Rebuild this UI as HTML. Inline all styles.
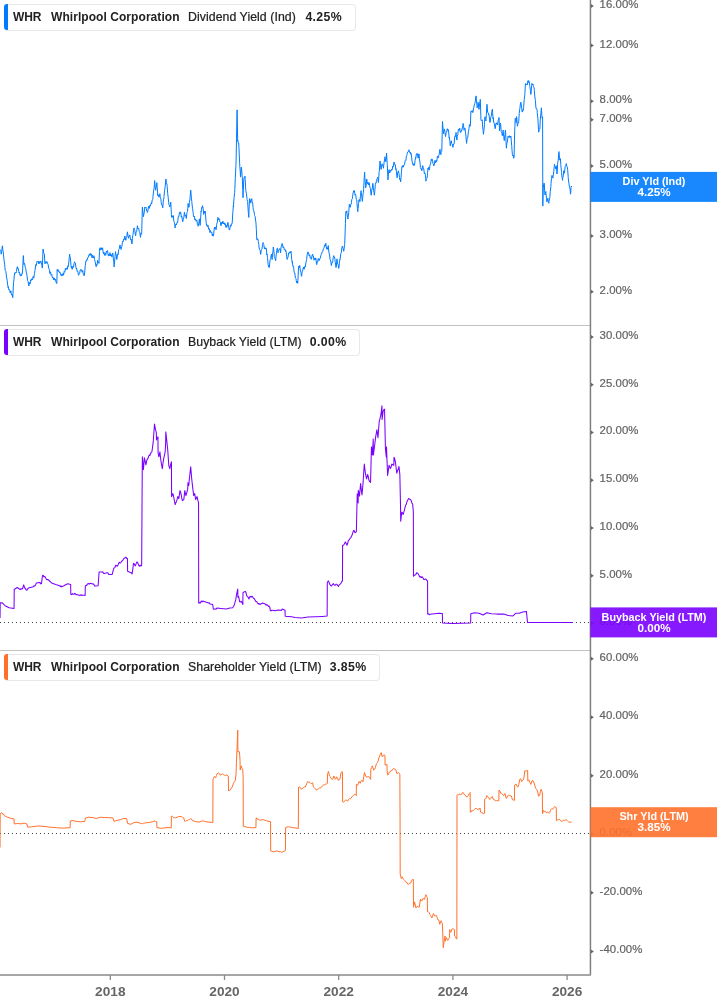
<!DOCTYPE html>
<html lang="en"><head><meta charset="utf-8"><title>WHR Yield Chart</title>
<style>
html,body{margin:0;padding:0;background:#fff;}
body{width:717px;height:1005px;overflow:hidden;position:relative;font-family:"Liberation Sans", Arial, sans-serif;}
svg{position:absolute;left:0;top:0;display:block;}
.lg{position:absolute;left:4px;height:27px;box-sizing:border-box;border:1px solid #e8e8e8;border-left:none;border-radius:4px;background:#fff;font-size:12px;line-height:25px;color:#222;white-space:nowrap;letter-spacing:-0.1px;}
.lg i{position:absolute;left:0;top:-1px;bottom:0px;width:4px;border-radius:3px 0 0 3px;}
.lg b{font-weight:bold;}
.lg span{position:absolute;top:0;}
.lg .m{font-size:12.3px;letter-spacing:0.06px;-webkit-text-stroke:0.22px #222;}
.lg .v{font-size:12.3px;letter-spacing:0.35px;}
</style></head><body>
<svg width="717" height="1005" viewBox="0 0 717 1005" font-family='"Liberation Sans", Arial, sans-serif'>
<g stroke="#c2c2c2" stroke-width="1"><line x1="0" y1="325.5" x2="590.45" y2="325.5"/><line x1="0" y1="650.5" x2="590.45" y2="650.5"/></g><g stroke="#444" stroke-width="1" stroke-dasharray="1,3"><line x1="0" y1="622.5" x2="590.45" y2="622.5"/><line x1="0" y1="833.5" x2="590.45" y2="833.5"/></g><path d="M0,249.3 L0.31,251.61 L0.93,252.36 L1.1,254.2 L1.55,253.09 L2.17,246.83 L2.5,245.8 L2.79,249.45 L3.41,252.96 L3.5,254.9 L4.03,260.19 L4.65,264.15 L4.9,267.4 L5.27,270.62 L5.89,271.43 L6.3,275.1 L6.51,276.99 L7.13,280.14 L7.75,285.6 L8.1,287.6 L8.37,286.61 L8.99,290.34 L9.61,289.73 L9.8,290.4 L10.23,292.94 L10.85,290.85 L11.2,293.2 L11.47,295.12 L12.09,294.37 L12.71,297.68 L12.8,297.4 L13.33,286.02 L13.5,282.8 L13.95,279.83 L14.57,272.88 L14.6,273 L15.19,273.57 L15.81,272.36 L16,273 L16.43,271.41 L17.05,267.33 L17.4,266.7 L17.67,268.56 L18.29,268.34 L18.8,271.6 L18.91,272.88 L19.53,272.11 L20.15,275.75 L20.6,275.8 L20.77,274.36 L21.39,275.76 L22.01,273.37 L22.3,273.7 L22.63,269.97 L23.25,256.37 L23.4,255.6 L23.87,264.13 L24,264.6 L24.49,263.31 L24.8,264.6 L25.11,266.87 L25.73,268.57 L26.35,272.96 L26.5,273 L26.97,275.27 L27.59,280.55 L28.21,281.83 L28.6,284.9 L28.83,285.98 L29.45,282.57 L30.07,283.97 L30.69,279.76 L31.31,280.46 L31.4,280 L31.93,278.61 L32.55,279.85 L33.17,276.39 L33.79,278.09 L34.2,275.8 L34.41,273.47 L35.03,270.39 L35.6,266 L35.65,264.68 L36.27,265.57 L36.89,261.81 L37.4,261.1 L37.51,261.62 L38.13,261 L38.75,263.98 L39.37,261.54 L39.7,263.2 L39.99,263.23 L40.61,261.19 L41.1,261.1 L41.23,262.3 L41.85,265.09 L42.3,268.1 L42.47,264.95 L43,249.3 L43.09,249.11 L43.71,253.22 L44.33,253.69 L44.4,254.9 L44.9,263.2 L44.95,263.75 L45.57,261.69 L46.19,263.32 L46.81,261.46 L47.4,262.5 L47.43,263.08 L48.05,264.21 L48.67,268.18 L49.29,269.38 L49.5,270.9 L49.91,273.48 L50.53,271.79 L51.15,275.34 L51.77,274.47 L52.3,277.2 L52.39,277.88 L53.01,277.06 L53.63,280.03 L54.25,277.95 L54.87,280.21 L55.1,280 L55.49,279.12 L56.11,282.68 L56.73,282.69 L56.8,283.5 L57.2,269.5 L57.35,271.03 L57.97,269.51 L58.59,271.6 L59.21,271.11 L59.3,271.6 L59.83,273.09 L60.45,272.78 L61.07,275.78 L61.4,275.8 L61.69,274.37 L62.31,275.71 L62.93,273.34 L63.5,273.7 L63.55,275.24 L64.17,271.38 L64.79,272.22 L65.41,268.37 L65.6,269.5 L66.03,269.61 L66.65,267.9 L67.27,269.34 L67.89,265.68 L68.3,266.7 L68.51,265.47 L69.13,258.72 L69.7,254.2 L69.75,255.94 L70.37,258.06 L70.99,265.32 L71.4,268.1 L71.61,266.39 L72.23,269.31 L72.85,266.39 L73.2,267.4 L73.47,267.21 L74.09,263.39 L74.6,261.8 L74.71,262.58 L75.33,262.99 L75.95,267.68 L76.4,268.8 L76.57,267.96 L77.19,271.53 L77.81,271.05 L78.43,275.26 L78.8,275.1 L79.05,273.72 L79.67,273.33 L80.29,269.82 L80.9,269.5 L80.91,269.91 L81.53,269.72 L82.15,272.25 L82.77,270.5 L83,272.3 L83.39,274.7 L84.01,274.82 L84.1,275.8 L84.63,273.02 L85.25,265.74 L85.8,261.8 L85.87,261.99 L86.49,259.78 L87.11,260.17 L87.73,257.65 L87.9,257.7 L88.35,257.35 L88.97,254.74 L89.59,255.42 L90,253.5 L90.21,253.3 L90.83,255.41 L91.45,253.89 L92.07,257.93 L92.1,256.3 L92.69,255.29 L93.31,257.99 L93.93,255.82 L94.1,257 L94.55,259.58 L95.17,261.59 L95.79,265.13 L96.2,266.7 L96.41,264.43 L97.03,265.23 L97.65,260.25 L97.8,261.4 L98.27,262.58 L98.89,262.19 L98.9,263.4 L99.51,251.65 L99.6,248.8 L100.13,247.7 L100.75,250.02 L101.3,249.5 L101.37,247.77 L101.99,249.56 L102.61,247.78 L102.7,248.8 L103.23,253.02 L103.6,253.7 L103.85,252.23 L104.47,255.35 L105.09,252.96 L105.5,254.4 L105.71,255.4 L106.33,251.21 L106.95,252.37 L107.3,250.9 L107.57,250.59 L108.19,255.58 L108.7,255.8 L108.81,254.14 L109.43,255.73 L110.05,252.62 L110.3,253.7 L110.67,255.95 L111.29,254.58 L111.7,256.5 L111.91,257.06 L112.53,253.24 L112.9,253 L113.15,257.01 L113.77,261.93 L114.1,266.9 L114.39,264.35 L115.01,256.42 L115.6,251.6 L115.63,253.52 L116.25,255.07 L116.6,259.3 L116.87,259.54 L117.49,254.9 L118,253.7 L118.11,254.56 L118.73,249.46 L119.35,248.84 L119.8,246 L119.97,244.95 L120.59,248.39 L121.2,249.5 L121.21,248.1 L121.83,246.73 L122.45,242.18 L122.9,241.1 L123.07,241.73 L123.69,238.9 L124.31,239.56 L124.93,236.04 L125,236.9 L125.55,239.99 L126,240.4 L126.17,237.8 L126.79,236.37 L127.4,232.1 L127.41,231.84 L128.03,236.37 L128.5,238.3 L128.65,236.59 L129.27,236.5 L129.6,234.9 L129.89,235.36 L130.51,239.59 L131,239.7 L131.13,238.97 L131.75,243.48 L132.1,243.9 L132.37,238.62 L132.7,235.6 L132.99,234.76 L133.61,229.36 L134.1,227.9 L134.23,229.1 L134.85,230.61 L135.47,235.92 L135.7,235.6 L136.09,231.8 L136.71,231.39 L137.3,226.5 L137.33,225.71 L137.95,228.75 L138.57,227.98 L138.9,229.3 L139.19,231.22 L139.81,232.79 L140.3,236.2 L140.43,237.36 L141.05,232.89 L141.67,234.17 L141.7,232.8 L142.29,209.42 L142.4,207 L142.91,212.18 L143.5,216.7 L143.53,215.96 L144.15,213.13 L144.77,207.22 L144.9,207 L145.39,208.09 L146.01,207.23 L146.3,208.4 L146.63,210.93 L147.25,211.3 L147.3,212.5 L147.87,211 L148.49,206.35 L148.7,207 L149.11,208.47 L149.73,205.55 L150.1,206.3 L150.35,206.08 L150.97,203.78 L151.5,202.8 L151.59,204.01 L152.21,199.96 L152.83,199.44 L152.9,197.9 L153.45,191.91 L154.07,188.23 L154.69,180.58 L154.7,181.9 L155.31,187.29 L155.7,190.2 L155.93,188.12 L156.55,185.26 L156.8,182.6 L157.17,186.63 L157.79,195.74 L157.8,194.4 L158.41,195.32 L158.9,197.2 L159.03,197.24 L159.65,194.21 L159.9,193.7 L160.27,197.27 L160.89,199.17 L161.2,202.1 L161.51,204.52 L162.13,204.6 L162.6,207.7 L162.75,207.93 L163.37,199.9 L163.99,197.84 L164,196.5 L164.61,190.33 L165.23,186.2 L165.85,179.01 L165.9,179.1 L166.47,182.75 L167.09,185.1 L167.2,186.7 L167.71,193.61 L168.33,198.58 L168.6,202.1 L168.95,204.5 L169.57,206.07 L169.6,207 L170.19,205.65 L170.7,202.1 L170.81,202.75 L171.43,214.43 L171.7,217.4 L172.05,215.69 L172.67,217.28 L173.1,216 L173.29,215.54 L173.91,221.62 L174.53,222.73 L175.15,227.86 L175.2,226.5 L175.77,224.24 L176.39,225 L177.01,222.55 L177.3,223 L177.63,222.53 L178.25,216.68 L178.7,216 L178.87,216.32 L179.49,212.53 L180.1,211.8 L180.11,213.36 L180.73,212.27 L181.35,217.17 L181.5,216 L181.97,216.93 L182.59,221.57 L182.9,221.6 L183.21,219.15 L183.83,217.33 L184.3,213.2 L184.45,212.1 L185.07,216.19 L185.69,215.14 L186.31,218.49 L186.4,218.1 L186.93,212.65 L187.55,211.34 L188.17,203.45 L188.2,204.9 L188.79,207.33 L189.1,207 L189.41,202.53 L190.03,198.56 L190.65,190.11 L190.8,190.2 L191.27,197.08 L191.89,201.9 L191.9,202.8 L192.51,208.36 L193.13,212.25 L193.3,214.6 L193.75,216.89 L194.37,216.12 L194.99,220.16 L195,219.2 L195.61,219.17 L196.23,221.25 L196.8,220.1 L196.85,219.95 L197.47,224.72 L198.09,225.71 L198.1,226.3 L198.71,223.92 L199.3,220.1 L199.33,218.87 L199.95,224.42 L200.2,225.4 L200.57,219.01 L201.1,211.1 L201.19,211.78 L201.81,207.05 L202.43,207.45 L202.5,205.7 L203.05,208.03 L203.6,212.9 L203.67,214.44 L204.29,211.08 L204.91,212.96 L205.1,211.1 L205.53,215.07 L206.15,222.43 L206.5,225.4 L206.77,224.54 L207.39,226.68 L207.9,226.3 L208.01,225.25 L208.63,229.32 L209.25,228.64 L209.7,230.8 L209.87,232.45 L210.49,230.51 L211.11,232.95 L211.5,232.6 L211.73,232.23 L212.35,235.78 L212.97,233.98 L213.3,236.2 L213.59,234.93 L214.21,228.86 L214.7,227.2 L214.83,229.04 L215.45,227.2 L216,229 L216.07,229.69 L216.69,224.32 L217.31,222.26 L217.8,218.3 L217.93,217.36 L218.55,219.82 L219.17,218.65 L219.6,219.2 L219.79,221.84 L220.41,222.36 L220.8,225.4 L221.03,225.81 L221.65,222.33 L222.27,223.63 L222.6,221.9 L222.89,221.14 L223.51,223.88 L224.13,222.71 L224.75,224.64 L224.9,223.7 L225.37,223.73 L225.99,227.46 L226.61,225.43 L226.7,227.2 L227.23,226.08 L227.85,222.35 L228,222.8 L228.47,226.31 L229.09,228.93 L229.1,229.9 L229.71,229.82 L230.33,225.26 L230.9,225.4 L230.95,226.3 L231.57,223.71 L232.1,223.7 L232.19,223.02 L232.81,212.7 L233.4,205.7 L233.43,206.95 L234.05,197.74 L234.67,192.49 L234.8,189.6 L235.29,178.45 L235.91,165.67 L236.1,160.9 L236.53,138.35 L237.1,109.9 L237.15,113.77 L237.7,141.2 L237.77,140.58 L238.39,143.24 L238.7,143 L239.01,148.4 L239.63,163.15 L239.8,166.3 L240.25,171.92 L240.5,177.1 L240.87,172.99 L241.3,167.2 L241.49,168.07 L242.11,175.87 L242.3,177.1 L242.73,189.18 L243,197.7 L243.35,190.52 L243.8,178.9 L243.97,177.61 L244.59,177.95 L245,176.2 L245.21,179.38 L245.6,187.8 L245.83,190.62 L246.45,193.83 L247,198.6 L247.07,199.63 L247.69,201.75 L247.7,203 L248.31,212.18 L248.8,217.4 L248.93,212.87 L249.5,198.6 L249.55,200.26 L250.17,199.64 L250.6,202.2 L250.79,203.13 L251.41,199.14 L251.8,198.6 L252.03,201.51 L252.65,202.98 L253.1,207.5 L253.27,209.94 L253.89,210.82 L254.5,214.7 L254.51,215.49 L255.13,216.35 L255.75,221.73 L255.9,221.9 L256.37,229.66 L256.7,238 L256.99,239.92 L257.61,238.68 L258.1,239.8 L258.23,241.48 L258.85,244.48 L259,247 L259.47,249.28 L260.09,250.32 L260.71,254.36 L260.8,253.2 L261.33,249.84 L261.95,249.26 L262.57,244.49 L263.1,242.5 L263.19,243.79 L263.81,244.63 L264.4,248.7 L264.43,249.01 L265.05,247.7 L265.67,249.14 L265.8,247.8 L266.29,248.6 L266.91,254.83 L267.1,254.1 L267.53,257.51 L268.15,264.56 L268.5,266.7 L268.77,265.69 L269.2,267.6 L269.39,267.2 L270.01,260.38 L270.3,259.5 L270.63,258.58 L271.25,254.83 L271.5,254.1 L271.87,257.88 L272.1,259.5 L272.49,255.09 L273.11,250.05 L273.3,247 L273.73,249.52 L274.35,256.74 L274.6,257.7 L274.97,258.1 L275.59,260.69 L275.7,260.4 L276.21,254.84 L276.83,250.86 L276.9,248.7 L277.45,248.16 L278.07,252.73 L278.2,251.4 L278.69,250.02 L279.31,249.65 L279.6,248.7 L279.93,248.39 L280.5,252.3 L280.55,252.93 L281.17,246.67 L281.79,244.86 L281.9,243.4 L282.41,243.86 L283.03,247.55 L283.2,247 L283.65,246.71 L284.27,249.6 L284.89,248.98 L285.51,251.42 L285.7,250.4 L286.13,251.5 L286.75,257.25 L287.2,259.4 L287.37,257.78 L287.99,257.58 L288.61,252.89 L288.7,253.4 L289.23,253.47 L289.85,251.77 L290.47,252.72 L291,251.2 L291.09,251.72 L291.71,259.38 L292.2,262.4 L292.33,261.5 L292.95,266.69 L293.57,266.37 L293.7,268.4 L294.19,272.13 L294.7,273.6 L294.81,273.23 L295.43,278 L296.05,278.62 L296.2,280.3 L296.67,282.92 L297.29,281.05 L297.7,283.3 L297.91,280.35 L298.53,267.45 L298.7,266.1 L299.15,267.74 L299.77,265.42 L299.9,266.9 L300.39,271.25 L301.01,272.62 L301.4,275.8 L301.63,276.33 L302.25,270.47 L302.87,270.51 L302.9,269.1 L303.49,267.14 L304.11,269.26 L304.73,266.4 L305.1,266.9 L305.35,266.96 L305.97,262.15 L306.59,260.23 L306.6,259.4 L307.21,254.63 L307.8,251.9 L307.83,252.28 L308.45,252.47 L309.07,255.78 L309.6,255.7 L309.69,254.75 L310.31,258.08 L310.93,257.36 L311.1,259.4 L311.55,259.07 L312.17,254.92 L312.6,254.2 L312.79,256.08 L313.41,255.91 L314.03,260.2 L314.1,259.4 L314.65,258 L315.27,259.93 L315.6,257.9 L315.89,258.32 L316.51,264.26 L316.8,264.6 L317.13,261.74 L317.75,261.96 L318.1,258.7 L318.37,258.62 L318.99,260.69 L319.6,260.1 L319.61,258.73 L320.23,258.45 L320.8,255.7 L320.85,254.71 L321.47,254.37 L322.09,251.86 L322.3,251.9 L322.71,251.72 L323.33,248.94 L323.95,248.52 L324.1,247.5 L324.57,244.82 L325.19,245.98 L325.7,243.7 L325.81,243.22 L326.43,248.87 L326.8,249 L327.05,247.52 L327.67,249.36 L328.29,245.52 L328.3,246.7 L328.91,252.3 L329.5,254.9 L329.53,254.67 L330.15,259.83 L330.77,260.95 L331.3,265.4 L331.39,265.54 L332.01,262.02 L332.5,262.4 L332.63,262.25 L333.25,257.57 L333.8,255.7 L333.87,256.45 L334.49,256.83 L335,259.4 L335.11,261.46 L335.73,265 L336,267.6 L336.35,266.03 L336.9,259.4 L336.97,258.86 L337.59,263.89 L338.21,264.81 L338.7,268.4 L338.83,268.24 L339.45,262.07 L339.9,259.4 L340.07,259.69 L340.69,254.01 L341,253.4 L341.31,252.57 L341.93,247.51 L342.5,246 L342.55,246.93 L343.17,248.58 L343.7,251.2 L343.79,251.24 L344.41,246.08 L344.7,244.5 L345.03,235.17 L345.4,223.6 L345.65,216.24 L345.9,211.6 L346.27,212.74 L346.89,210.84 L346.9,212.4 L347.51,217.46 L348,219.1 L348.13,217.28 L348.75,212.41 L349.2,205.7 L349.37,204.29 L349.99,207.09 L350.4,207.2 L350.61,204.69 L351.23,204.37 L351.4,202.7 L351.85,199.28 L352.47,198.53 L352.5,196.7 L353.09,193.11 L353.7,190.7 L353.71,191.76 L354.33,190.66 L354.9,193.7 L354.95,195.13 L355.57,194.29 L355.9,196 L356.19,199.38 L356.81,199.93 L356.9,201.9 L357.43,208.76 L357.8,211.6 L358.05,208.43 L358.67,203.36 L358.9,199.7 L359.29,199.35 L359.9,201.2 L359.91,201.7 L360.53,195.31 L361.1,190.7 L361.15,192.18 L361.77,196.09 L362.3,201.2 L362.39,201.38 L363.01,194.16 L363.4,192.2 L363.63,189.29 L364.25,177.3 L364.6,172.1 L364.87,177.45 L365.49,185.19 L365.6,187.8 L366.11,185.7 L366.73,179.04 L366.8,179.6 L367.35,183.72 L367.8,184 L367.97,182.29 L368.59,184.96 L369.21,182.71 L369.3,183.3 L369.83,186.91 L370.45,188.59 L371.07,195.23 L371.3,195.2 L371.69,190.93 L372.31,187.99 L372.8,183.3 L372.93,183.65 L373.55,190.51 L374.17,193.08 L374.3,195.2 L374.79,191.23 L375.3,184.8 L375.41,183.2 L376.03,183.42 L376.5,180.3 L376.65,179.28 L377.27,178.64 L377.5,177.3 L377.89,178.16 L378.3,182.5 L378.51,181.73 L379.13,171.67 L379.3,171.3 L379.75,165.03 L380,161 L380.37,163.44 L380.99,169.24 L381.1,169.4 L381.61,165.65 L382.1,163.8 L382.23,165.3 L382.85,165.23 L383.47,168.28 L383.5,167.3 L384.09,162.47 L384.71,158.65 L384.9,156.8 L385.33,158.56 L385.6,161.7 L385.95,160.08 L386.57,153.05 L386.6,154 L387.19,163.67 L387.3,164.5 L387.81,176.54 L387.9,179.8 L388.43,174.68 L388.8,170.1 L389.05,169.76 L389.67,172.97 L390,172.2 L390.29,170.29 L390.91,171.24 L391.4,170.1 L391.53,169.37 L392.15,170.03 L392.77,166.19 L392.8,167.3 L393.39,166.05 L393.9,162.4 L394.01,161.99 L394.63,164.57 L395.1,164.5 L395.25,164.54 L395.87,169.53 L396,168.7 L396.49,172 L397,177.1 L397.11,177.82 L397.73,172.13 L398.35,171.78 L398.4,170.8 L398.97,173.31 L399.5,177.7 L399.59,179.39 L400.21,178.82 L400.6,181.9 L400.83,180.29 L401.45,171.79 L402,166.6 L402.07,167.08 L402.69,165.56 L403,167.3 L403.31,167.06 L403.93,164.93 L404,165.2 L404.55,164.64 L405.17,160.71 L405.4,161 L405.79,160.59 L406.41,155.96 L407.03,155.41 L407.2,153.3 L407.65,152.03 L408.27,151.83 L408.6,150.6 L408.89,149.79 L409.51,152.31 L410,152.6 L410.13,151.97 L410.75,154.44 L411,153.3 L411.37,154.62 L411.99,160.93 L412.4,163.1 L412.61,163 L413.23,165.49 L413.5,165.2 L413.85,163.66 L414.47,165.4 L414.6,164.5 L415.09,160.61 L415.6,157.5 L415.71,158.46 L416.33,154.21 L416.95,155.04 L417,153.3 L417.57,154.34 L417.9,157.5 L418.19,158.23 L418.81,153.93 L419.1,154 L419.43,158.8 L420.05,162.99 L420.4,167.3 L420.67,168.67 L421.29,168.52 L421.6,170.1 L421.91,170.78 L422.53,165.76 L423,165.9 L423.15,167.3 L423.77,168.94 L424.39,173.66 L424.4,172.9 L425.01,173.04 L425.3,174.3 L425.63,178.41 L426,181.2 L426.25,179.38 L426.87,178.36 L427.4,175.7 L427.49,173.62 L428.1,168 L428.11,169.42 L428.73,167.26 L429.35,170.1 L429.5,168.7 L429.97,165.26 L430.59,163.8 L430.9,161.7 L431.21,159.47 L431.83,160.63 L431.9,158.9 L432.45,160.34 L433.07,163.78 L433.69,164.84 L433.7,165.9 L434.31,164.83 L434.93,160.5 L435.1,161 L435.55,162.88 L436.17,160.32 L436.5,161.7 L436.79,161.5 L437.41,156.21 L437.5,156.1 L438.03,157.84 L438.6,157.5 L438.65,155.8 L439.27,153.95 L439.89,149.44 L440,149.2 L440.51,153.65 L440.9,154.7 L441.13,152.09 L441.75,151.25 L441.8,150.6 L442.37,125.72 L442.5,121.5 L442.99,128.03 L443.5,133.8 L443.61,131.86 L444.23,131.03 L444.4,128.9 L444.85,131.14 L445.47,136.37 L445.6,136.6 L446.09,132.85 L446.71,132.25 L446.9,130.3 L447.33,128.71 L447.95,130.63 L448.3,129.6 L448.57,130.91 L449.19,138.11 L449.3,137.3 L449.81,140.82 L450.2,145.7 L450.43,145.75 L451.05,141.18 L451.4,140.8 L451.67,143.48 L452.29,144.04 L452.5,146.4 L452.91,147.37 L453.53,143.98 L453.9,144.3 L454.15,143.85 L454.77,136.42 L455,135.9 L455.39,136.58 L456,133.8 L456.01,132.43 L456.63,139.24 L457,140.1 L457.25,136.49 L457.87,134.54 L458.1,131 L458.49,129.22 L459.11,130.52 L459.5,128.9 L459.73,128.18 L460.35,132.45 L460.9,132.4 L460.97,131.3 L461.59,131.22 L462.21,127.97 L462.3,128.2 L462.83,125.9 L463,123.4 L463.45,124.25 L464.07,130.26 L464.1,129.6 L464.69,128.24 L465.1,128.2 L465.31,130.99 L465.93,136.02 L466.5,142.9 L466.55,143.39 L467.17,138.26 L467.6,138 L467.79,137.05 L468.41,131.6 L469.03,128.45 L469.3,126.1 L469.65,124.45 L470.27,126.25 L470.4,124.7 L470.89,111.21 L470.9,111.5 L471.51,111.89 L472.13,110.56 L472.75,112.62 L473.2,111.5 L473.37,108.87 L473.99,106.94 L474.1,105.9 L474.61,103.75 L475,102.9 L475.23,101.99 L475.85,96.89 L476.1,95.9 L476.47,100.93 L477.09,106.38 L477.1,107.8 L477.71,105.52 L478.1,102.2 L478.33,103.6 L478.9,109.2 L478.95,109.41 L479.57,103.82 L480.19,100.71 L480.3,99.4 L480.81,115.21 L480.9,119.6 L481.43,120.87 L482.05,119.68 L482.3,121 L482.67,126.92 L483.29,132 L483.4,134.3 L483.91,130.42 L484.5,124.5 L484.53,122.5 L485,116.8 L485.15,119.08 L485.77,119.61 L485.9,121 L486.39,114.23 L486.9,105 L487.01,104.3 L487.63,112.22 L487.8,112.7 L488.25,112.91 L488.87,115.02 L488.9,114.7 L489.49,118.12 L489.8,122.4 L490.11,122.38 L490.73,117.22 L491,116.8 L491.35,115.94 L491.97,110.51 L492.4,109.2 L492.59,112.52 L493.1,118.9 L493.21,117.63 L493.83,122.91 L494.2,123.1 L494.45,123.87 L495.07,128.29 L495.2,128.7 L495.69,124.99 L496.2,123.1 L496.31,124.06 L496.93,122.61 L497.3,124.5 L497.55,125.05 L498,122.4 L498.17,120.42 L498.79,119.05 L499,117.5 L499.41,127.89 L499.5,130.8 L500.03,127.02 L500.4,123.1 L500.65,124.5 L501.27,131.81 L501.5,132.2 L501.89,133.13 L502.2,135.7 L502.51,135.59 L503.13,130.1 L503.2,131.5 L503.75,136.72 L504.3,140.6 L504.37,138.88 L504.99,134.52 L505.4,130.1 L505.61,132.52 L506.23,145.42 L506.4,148.2 L506.85,143.41 L507.47,141.74 L507.8,137.8 L508.09,136.06 L508.71,137.31 L509.2,136.4 L509.33,135.72 L509.95,137.7 L510.57,135.96 L511,136.4 L511.19,140.01 L511.81,146.7 L512,150.3 L512.43,154.61 L512.9,155.9 L513.05,154.95 L513.67,158.3 L514.1,157.3 L514.29,148.18 L514.7,130.8 L514.91,126.91 L515.2,118.2 L515.53,118.6 L516.1,121.7 L516.15,122.77 L516.6,116.6 L516.77,117.93 L517.39,126.22 L517.5,125.9 L518.01,123.52 L518.63,123.01 L518.7,121.7 L519.25,113.45 L519.6,109.9 L519.87,108.53 L520.3,105 L520.49,102.78 L521,102.2 L521.11,103.92 L521.73,107.97 L522.1,112 L522.35,112.06 L522.97,110.05 L523.1,110.6 L523.59,107.63 L523.8,105 L524.21,99.26 L524.83,94.66 L524.9,93.1 L525.45,83.59 L525.5,84.1 L526.07,84.83 L526.69,83.84 L526.9,84.8 L527.31,84.79 L527.93,80.74 L528.55,82.41 L528.7,80.6 L529.17,81.69 L529.7,85.5 L529.79,86.55 L530.41,90.48 L530.8,94.5 L531.03,93.47 L531.65,85.29 L531.9,83.4 L532.27,85.04 L532.89,83.94 L533.3,85.5 L533.51,86.82 L534.13,87.8 L534.3,90.3 L534.75,96.13 L535.3,100.1 L535.37,100.25 L535.99,108.51 L536.1,108.5 L536.61,108.51 L537.1,109.9 L537.23,112.33 L537.85,118.09 L538,121 L538.47,129.24 L538.7,132.2 L539.09,130.06 L539.71,129.51 L539.9,128 L540.33,119.03 L540.6,115.4 L540.95,112.73 L541.4,107.8 L541.57,110.28 L541.9,116.8 L542.19,118.12 L542.6,116.8 L542.8,206.1 L542.81,204.92 L543.3,185.2 L543.43,186.64 L544.05,183.06 L544.3,183.8 L544.67,190.98 L545,194.9 L545.29,193.04 L545.9,191.5 L545.91,193.07 L546.53,198.35 L546.8,201.9 L547.15,201.17 L547.77,198.07 L547.8,198.4 L548.39,202.28 L548.9,203.3 L549.01,201.24 L549.63,198.74 L549.9,196.3 L550.25,191.46 L550.87,186.75 L551,183.8 L551.49,178.55 L552,175.4 L552.11,176.21 L552.73,177.34 L552.8,178.2 L553.35,174.87 L553.8,171.2 L553.97,169.05 L554.5,164.3 L554.59,165.51 L555.21,166.54 L555.6,168.4 L555.83,169.1 L556.3,165.7 L556.45,166.58 L557,174 L557.07,173.88 L557.6,164.3 L557.69,162.39 L558.31,160.08 L558.4,158 L558.93,151.6 L559,152.4 L559.55,158.53 L559.8,160.1 L560.17,158.47 L560.4,158.7 L560.79,164.51 L561.41,171.14 L561.5,172.6 L562.03,177.17 L562.6,180.3 L562.65,178.57 L563.27,175.88 L563.6,171.2 L563.89,170.66 L564.3,173.3 L564.51,173.07 L565.13,166.41 L565.4,165.7 L565.75,165.54 L566.37,163.58 L566.4,164.3 L566.99,166.91 L567.3,167.1 L567.61,169.23 L568.2,176.8 L568.23,177.58 L568.7,182.4 L568.85,182.33 L569.47,187.33 L569.8,188 L570.09,189.16 L570.5,194.2 L570.71,192.76 L571,187.3 L571.33,186 L571.7,187" fill="none" stroke="#007bff" stroke-width="1.0" stroke-linejoin="round"/><path d="M0.05,617.9 L0.2,602.7 L1.1,602.92 L2,602.7 L5.1,605.7 L9.1,607.7 L14.05,608.4 L14.2,589.5 L17.2,587.5 L20.2,589.5 L21,588.74 L21.8,589.14 L22.6,588.5 L23.7,584.9 L24.7,588.1 L25.43,588.33 L26.17,589.99 L26.9,590.2 L27.6,589.05 L28.3,588.1 L32.4,586.9 L33.2,586.69 L34,585.73 L34.8,586.1 L35.6,584.73 L36.4,582.9 L39.4,582.5 L40.1,582.62 L40.8,583.91 L41.5,583.5 L42.5,575.4 L43.17,575.35 L43.83,576.7 L44.5,576.4 L45.3,577.22 L46.1,578.8 L46.9,579.7 L47.7,579.44 L48.5,580 L51.6,582.9 L55.6,584.5 L59.7,585.7 L60.37,586.59 L61.03,585.84 L61.7,586.9 L64.7,585.3 L67.7,583.7 L70.65,584.5 L70.8,594.2 L71.6,594.62 L72.4,593.63 L73.2,594.2 L74,594.32 L74.8,593.4 L75.47,593.71 L76.13,594.78 L76.8,594.6 L79.9,595.4 L80.57,594.8 L81.23,595.39 L81.9,595 L85.15,595.4 L85.3,586.1 L86,585.36 L86.7,585.42 L87.4,584.1 L88.27,583.45 L89.13,584.12 L90,583.3 L93,584.1 L93.8,584.1 L94.6,585.98 L95.4,586.1 L98.1,585.7 L99.1,572 L102.1,572 L102.77,571.77 L103.43,573.26 L104.1,573.4 L107.2,572.8 L107.87,572.72 L108.53,574.23 L109.2,574.4 L112.2,574.4 L113.2,570.3 L114.03,567.93 L114.87,567.63 L115.7,565.3 L116.5,565.68 L117.3,566.3 L117.97,565.08 L118.63,563.36 L119.3,562.2 L120.1,563.13 L120.9,562.6 L121.73,561.11 L122.57,560.82 L123.4,559.2 L124.07,558.27 L124.73,558.27 L125.4,557.2 L126.08,557.35 L126.77,558.43 L127.45,558.6 L127.6,571.3 L130.4,572.4 L131.25,572.74 L132.1,574 L132.8,569.11 L133.5,563.3 L134.3,563.92 L135.1,565.9 L135.85,564.63 L136.6,562.3 L137.3,562.1 L138,563.3 L138.7,565.4 L139.4,566.2 L140.15,565.12 L140.9,566.05 L141.65,565.2 L142.25,468.7 L142.4,456.8 L143.4,469.7 L144.4,457.8 L145.15,461.14 L145.9,464.8 L146.9,459.8 L147.7,458.95 L148.5,456.8 L149.17,455.07 L149.83,455.48 L150.5,453.8 L151.2,452.35 L151.9,451.8 L152.6,446.9 L153.3,440.9 L153.9,432.25 L154.5,424 L155.43,429.08 L156.35,432.9 L156.5,439.9 L157.22,437.95 L157.95,436.9 L158.1,452.8 L158.9,456.8 L159.9,451.8 L160.9,460.8 L161.6,465 L162.3,468.7 L163.3,460.8 L163.95,457.37 L164.6,454.78 L165.25,450.8 L165.65,442.9 L165.8,431.9 L166.8,440.9 L167.8,450.8 L168.8,465.7 L169.8,468.7 L170.62,464.51 L171.45,461.8 L171.6,496.6 L172.2,495.21 L172.8,493.6 L173.4,495.49 L174,498.6 L174.6,501.94 L175.2,504.6 L176,502.44 L176.8,500.6 L177.8,496.6 L178.8,498.6 L179.4,494.86 L180,490.6 L180.6,492.01 L181.2,494.6 L181.8,498.26 L182.4,500.6 L183.1,500.02 L183.8,499.6 L184.8,490.6 L185.9,495.6 L186.82,492.58 L187.75,488.6 L187.9,482.7 L188.7,485.6 L189.7,475.7 L190.7,466.7 L191.7,478.7 L192.7,487.6 L193.7,495.6 L194.7,493.6 L195.7,499.6 L196.4,498.02 L197.1,496.6 L197.82,500.15 L198.55,502.6 L198.7,603.1 L199.37,602.48 L200.03,603.1 L200.7,602.1 L201.37,601.03 L202.03,601.84 L202.7,601.1 L205.6,602.1 L208.6,603.1 L209.3,602.85 L210,604.1 L212.7,604.5 L213.3,609 L214,609.27 L214.7,608.9 L215.4,609 L216.03,609.17 L216.67,608.33 L217.3,608.1 L220.9,608.4 L226.3,609 L229.9,608.1 L232.7,607.7 L233.6,606.29 L234.5,604.5 L235.1,601.86 L235.7,599.9 L236.7,593.6 L237.75,589 L237.9,597.2 L238.6,596.3 L239.6,601.7 L240.4,601.93 L241.2,601.2 L242.02,602.69 L242.85,604.5 L243,592.7 L244.1,591.8 L244.75,591.68 L245.4,591.4 L246,592.74 L246.6,595.4 L247.35,596.57 L248.1,597.2 L249,599 L249.65,596.93 L250.3,596.3 L251.07,597.14 L251.83,596.32 L252.6,596.8 L253.4,598.21 L254.2,598.45 L255,599.9 L255.83,601.43 L256.67,601.5 L257.5,603 L258.3,603.94 L259.1,603.52 L259.9,604.5 L262.6,603 L265.3,604.1 L266.1,605.24 L266.9,604.56 L267.7,605.4 L268.4,606.35 L269.1,606.05 L269.8,607.2 L270.4,610.8 L271.13,610.85 L271.87,610.21 L272.6,610.3 L275.3,610.8 L278,609.9 L280.7,610.3 L281.45,610.38 L282.2,609 L285.05,610.3 L285.2,616.2 L288,616.4 L291.6,616.8 L295.2,617.5 L301.6,617.9 L307.9,617.1 L315.2,616.8 L322.4,616.4 L327.15,616.1 L327.3,582.7 L328.2,580.9 L328.95,582.09 L329.7,584.1 L330.6,585.48 L331.5,586 L332.4,584.74 L333.3,583.6 L334.15,584.84 L335,585.4 L335.9,584.34 L336.8,584.2 L337.6,585.41 L338.4,586.5 L339.2,584.87 L340,584.2 L340.82,583.56 L341.63,581.84 L342.45,580.8 L342.6,545.3 L343.4,545.24 L344.2,544.2 L345.3,541.9 L346.1,543.22 L346.9,545.3 L347.6,543.53 L348.3,540.7 L349.4,539.6 L350.2,538.15 L351,537.3 L351.9,535.54 L352.8,532.7 L353.4,530.98 L354,530.4 L355.1,532.7 L355.73,532.22 L356.35,531.6 L357.25,493.8 L358.15,503 L358.3,490.4 L358.9,493.16 L359.5,496.1 L360.6,483.5 L361.3,489.77 L362,495 L363.1,482.4 L363.7,472.53 L364.3,464.1 L365.4,473.2 L366,476.28 L366.6,478.9 L367.7,474.4 L368.3,476.88 L368.9,480.1 L369.73,481.71 L370.55,482.4 L371.45,446.9 L372.35,454.9 L373.25,438.9 L373.4,454.9 L374,450.08 L374.6,445.8 L375.7,436.6 L376.3,433.45 L376.9,429.7 L378,437.8 L378.6,429.48 L379.2,421.7 L380.12,418.01 L381.05,413.7 L381.95,405.7 L382.1,419.5 L383.1,411.4 L383.83,409.83 L384.55,409.2 L385.45,449.2 L386.35,457.2 L386.5,446.9 L387.6,475.5 L388.3,470.61 L389,465.2 L389.7,466.59 L390.4,468.6 L391.1,466.94 L391.8,464.1 L392.48,464.4 L393.17,465.28 L393.85,465.2 L394,457.2 L394.7,458.94 L395.4,461.8 L396.1,467.77 L396.8,473.2 L397.52,470.73 L398.23,469.28 L398.95,466.4 L399.85,474.4 L400.55,507.6 L400.7,521.3 L401.8,512.1 L402.5,513.03 L403.2,514.4 L404.1,511.18 L405,507.6 L405.63,505.31 L406.27,504.27 L406.9,501.8 L407.8,499.98 L408.7,498.4 L409.6,499.23 L410.5,499.5 L411.22,500.75 L411.93,503.2 L412.65,504.1 L413.35,512.1 L413.5,576.2 L414.3,575.29 L415.1,575.1 L415.8,574.6 L416.5,572.8 L417.4,573.18 L418.3,573.9 L419.2,575.89 L420.1,577.3 L420.73,576.59 L421.37,577.57 L422,576.7 L422.9,577.78 L423.8,579.6 L424.7,579.46 L425.6,578.9 L426.25,579.4 L426.9,580.59 L427.55,580.8 L427.7,614 L428.47,613.88 L429.23,614.75 L430,614.2 L438.9,613.2 L442.35,613.4 L442.5,623 L452.3,623.5 L470.65,623 L470.8,613.7 L474.6,612.8 L479.1,613.2 L483.1,615 L486.9,612.8 L491.4,613.7 L497,614.1 L503.7,614.1 L508.1,615.4 L513,615.9 L515.9,613.2 L519.3,613.2 L522.6,611.9 L526.4,611.4 L527.5,622.4 L541.6,622.4 L572.9,622.4" fill="none" stroke="#7a00ff" stroke-width="1.05" stroke-linejoin="round"/><path d="M0.05,847.5 L0.2,813.4 L0.83,813.66 L1.47,812.68 L2.1,813 L2.8,814.32 L3.5,814.1 L4.2,815.5 L7.3,817.2 L10.5,818.2 L14.05,818.9 L14.2,823.9 L17.8,823.5 L20.9,823.9 L24.1,823.1 L26.8,823.9 L27.8,827.2 L31.4,826.8 L37.7,826 L43.9,826.4 L50.2,827.2 L56.5,827.7 L62.8,828.1 L70.15,827.7 L70.3,821 L73.2,820.5 L76.4,821.4 L80.5,821.8 L84.7,821.4 L85.4,818 L88.9,817.2 L93.1,817.6 L96.2,818.5 L100.4,817.2 L104.6,817.6 L108.8,817.6 L113,818 L114,821.4 L117.2,820.3 L120.3,819.7 L123.4,818.5 L126.6,818.5 L127.6,823.5 L130.8,824.3 L133.9,822.6 L137,822.2 L140.2,823.1 L140.9,823.82 L141.6,823.08 L142.3,823.9 L143,823.7 L143.7,823.06 L144.4,823.1 L145,822.9 L149.2,822.5 L152.3,821.7 L155,820.8 L155.88,821.82 L156.75,821.7 L156.9,827.5 L160.7,828.3 L164.9,827.9 L168,827.5 L171.25,827.9 L171.4,816.2 L172.3,816.24 L173.2,817.1 L173.9,817.91 L174.6,817.52 L175.3,817.9 L178.5,816.6 L181.6,816.6 L182.3,817.34 L183,817.28 L183.7,817.9 L184.7,821.2 L185.4,821.42 L186.1,820.57 L186.8,820.8 L187.5,820.46 L188.2,819.83 L188.9,819.6 L189.75,819.35 L190.6,818.7 L191.43,818.85 L192.27,820.57 L193.1,820.8 L196.3,821.7 L199.4,822.1 L202.5,820.8 L205.7,821.7 L208.8,822.1 L212.85,822.5 L213,779.4 L213.75,777.71 L214.5,776.3 L215.1,777.49 L215.7,777.7 L216.45,775.47 L217.2,773.5 L217.9,773.49 L218.6,772.7 L219.45,773.83 L220.3,775.2 L221.15,774.75 L222,774.2 L222.85,773.97 L223.7,774.8 L224.6,775.37 L225.5,775.6 L226.25,775.03 L227,774.8 L227.68,776.14 L228.35,776.3 L228.5,790.9 L229.13,790.04 L229.77,790.44 L230.4,789.9 L231.1,788.27 L231.8,787.8 L232.55,786.05 L233.3,783.6 L233.95,782.11 L234.6,781.63 L235.25,780.4 L236.05,774.2 L236.45,762.7 L237.15,745.9 L237.75,730.2 L237.9,752.2 L238.68,751.43 L239.45,751.8 L240.05,760.6 L240.2,770 L241.2,765.8 L241.97,768.33 L242.75,770 L243.15,777.3 L243.3,826.3 L246.5,827.1 L249.6,827.5 L252.7,827.9 L255.95,827.5 L256.1,818.1 L256.73,817.85 L257.37,819.31 L258,819.1 L258.7,819.25 L259.4,820.08 L260.1,820.2 L263.2,819.6 L266.3,820.8 L270.55,821.7 L270.7,850.9 L273.7,851.8 L276.8,850.9 L279.9,851.8 L280.6,851.79 L281.3,852.2 L282,852.2 L285.45,850.5 L285.6,827.5 L288.3,826.7 L289,826.75 L289.7,827.18 L290.4,827.1 L293.3,827.7 L298.35,828.4 L298.5,787.2 L299.1,786.67 L299.7,786.9 L300.55,788.2 L301.4,789.4 L302.07,788.41 L302.73,788.5 L303.4,787.7 L304.23,786.91 L305.07,787.07 L305.9,786 L306.75,783.44 L307.6,781.5 L308.4,782.07 L309.2,782.2 L310.05,782.54 L310.9,783.5 L311.75,783.54 L312.6,782.7 L313.4,786.9 L314.25,787.62 L315.1,788.5 L315.95,789.79 L316.8,789.9 L317.47,789.37 L318.13,789.43 L318.8,788.5 L319.53,787.72 L320.27,788.03 L321,787.7 L321.7,786.38 L322.4,786.28 L323.1,785.2 L323.77,784.57 L324.43,784.72 L325.1,784.4 L325.85,784.02 L326.6,783.95 L327.35,783.5 L327.5,774.3 L328.5,771.5 L329.5,776 L330.25,776.67 L331,778.5 L331.85,779.06 L332.7,779.3 L333.8,776 L334.5,777.18 L335.2,779.3 L335.85,778.61 L336.5,776.8 L337.35,777.93 L338.2,780.2 L339.05,779.99 L339.9,779.3 L341,772.6 L341.73,771.95 L342.45,771.8 L342.6,801.9 L343.5,802.09 L344.4,801.6 L345.25,800.27 L346.1,799.9 L346.9,800.61 L347.7,801.1 L348.55,799.39 L349.4,798.6 L350.25,798.89 L351.1,798.2 L351.95,796.63 L352.8,796.1 L353.6,795.32 L354.4,794.4 L355.32,794.43 L356.25,795.6 L356.4,784.4 L357.1,784.9 L357.8,785.2 L358.45,783.11 L359.1,781.5 L359.7,782.74 L360.3,783.2 L360.95,781.15 L361.6,780.2 L362.3,781.24 L363,781.8 L363.75,776.64 L364.5,772.6 L365.6,776 L366.3,776.95 L367,777.2 L367.85,776.63 L368.7,776.5 L369.35,777.66 L370,778.22 L370.65,779.3 L370.8,769.3 L371.55,767.69 L372.3,765.9 L373,767.87 L373.7,770.1 L374.55,769.28 L375.4,767.6 L376.05,764.9 L376.7,763.4 L377.3,762.74 L377.9,761.8 L379,757.6 L379.7,755.82 L380.4,754.2 L381.2,752.6 L382.1,756.7 L382.75,756.49 L383.4,755.1 L384.17,754.91 L384.95,755.4 L385.1,765.1 L386.02,764.97 L386.95,764.3 L387.1,771 L387.9,775.1 L388.75,773.27 L389.6,771.8 L390.33,771.74 L391.07,770.43 L391.8,770.5 L392.47,770.13 L393.13,768.88 L393.8,768.5 L394.6,768.98 L395.4,769.3 L396.1,770.85 L396.8,773.5 L397.65,773.12 L398.5,772.6 L399.18,773.13 L399.85,774.3 L400.05,816.7 L400.2,874.1 L401.3,878.6 L402.2,876.8 L403.1,878.66 L404,879.5 L404.7,880.28 L405.4,881.75 L406.1,882.2 L406.9,882.33 L407.7,884 L408.5,884.3 L409.2,883.38 L409.9,883.54 L410.6,883 L411.5,880.96 L412.4,879.5 L413.35,879.5 L413.5,907.2 L414.6,901.9 L415.3,905.13 L416,908.1 L416.9,906.69 L417.8,906.3 L418.5,906.96 L419.2,907.2 L419.85,902.9 L420.5,899.2 L421.2,900.7 L421.9,901 L422.55,899.13 L423.2,898.3 L423.9,899.34 L424.6,899.2 L425.2,896.65 L425.8,894.7 L426.58,896.37 L427.35,897.4 L427.5,911.7 L428.3,911.7 L429.1,912.6 L429.8,914.26 L430.5,915.3 L431.15,916.44 L431.8,918 L432.6,916.02 L433.4,913.5 L434.1,914.72 L434.8,916.2 L435.5,916.01 L436.2,915.3 L436.85,916.51 L437.5,918.9 L438.1,919.93 L438.7,919.8 L439.8,924.3 L440.45,922.11 L441.1,920.7 L441.73,922.37 L442.35,923.4 L443.25,947.6 L444.15,941.3 L445.05,935.9 L445.2,941.3 L445.85,939.26 L446.5,937.7 L447.1,939.15 L447.7,940.4 L448.62,938.85 L449.55,937.7 L449.7,929.6 L450.3,931.43 L450.9,932.3 L451.55,929.97 L452.2,928.7 L452.92,929.25 L453.63,928.82 L454.35,929.6 L454.5,935.9 L455.6,936.8 L456.23,938.43 L456.85,939.1 L457,795.2 L457.67,794.47 L458.33,795.02 L459,794.3 L459.9,794.03 L460.8,794.7 L461.57,794.22 L462.33,792.8 L463.1,792.5 L464,794.05 L464.9,795.2 L465.8,795.78 L466.7,797 L467.6,796.57 L468.5,795.2 L469.32,793.42 L470.15,792.5 L470.3,812.3 L471,812.01 L471.7,810.73 L472.4,810.8 L473.3,810.61 L474.2,809.6 L475.1,808.58 L476,808.3 L476.9,809.01 L477.8,809.6 L478.7,808.95 L479.6,809 L480,808.1 L480.7,812.3 L481.4,812.69 L482.1,812.7 L482.8,812.98 L483.5,814.1 L484.55,813 L484.7,799.1 L485.3,799.05 L485.9,798.4 L487,795.6 L488.1,797 L488.8,797.65 L489.5,799.3 L490.2,799.26 L490.9,798.4 L491.6,796.96 L492.3,796.5 L493.2,799.1 L493.9,799.64 L494.6,799.7 L495.6,801.1 L496.3,800.35 L497,800.4 L497.93,801.01 L498.85,800.7 L499,790 L499.9,791 L500.9,793.5 L501.6,793.34 L502.3,794.2 L503,795.14 L503.7,795.6 L504.4,794.04 L505.1,793.5 L506.2,798.4 L506.9,797.73 L507.6,796 L508.45,795.12 L509.3,795.1 L510.15,795.94 L511,795.6 L511.7,797.07 L512.4,799.7 L513.08,800.27 L513.77,799.83 L514.45,800.4 L514.6,785.1 L515.3,784.69 L516,784 L516.7,785.09 L517.4,787.2 L518.1,786.37 L518.8,784.4 L519.7,779.5 L520.7,778.8 L521.6,781.6 L522.3,780.59 L523,780.2 L523.9,778.1 L524.9,770.5 L525.6,771.13 L526.3,770.9 L526.97,770.25 L527.65,770.5 L527.8,780.9 L528.8,779.8 L529.9,782.3 L530.9,784.4 L531.9,780.9 L533,780.6 L534.1,783 L535.1,786.5 L535.8,788.35 L536.5,789.3 L537.5,791 L538.6,796.3 L539.7,795.1 L540.4,791.4 L541.1,789.3 L541.73,790.91 L542.35,792.8 L542.5,813.7 L543.5,810.5 L544.2,811.38 L544.9,811.3 L545.55,811.63 L546.2,812.7 L546.9,812.72 L547.6,811.9 L548.3,812.32 L549,813.3 L549.7,812.49 L550.4,810.9 L551.1,809.22 L551.8,808.5 L552.5,809.05 L553.2,808.8 L553.9,807.3 L554.6,806.7 L555.42,807.12 L556.25,807.4 L556.4,820.7 L557.1,820.06 L557.8,819.7 L558.5,819.79 L559.2,819.3 L559.9,819.59 L560.6,820.7 L561.45,821.22 L562.3,821.4 L563,820.42 L563.7,820.3 L564.4,820.55 L565.1,820 L566.2,819.7 L566.9,820.33 L567.6,821.1 L568.45,821.91 L569.3,822.1 L570.1,822.13 L570.9,822.5 L571.4,821.6" fill="none" stroke="#ff712b" stroke-width="1" stroke-linejoin="round"/><line x1="590.45" y1="0" x2="590.45" y2="975" stroke="#7e7e7e" stroke-width="1.35"/><line x1="0" y1="974.9" x2="590.95" y2="974.9" stroke="#a6a6a6" stroke-width="2"/><path d="M590.95,4.1 L593.85,6.1 L590.95,8.1Z" fill="#666"/><text x="599.6" y="8.1" font-size="11.4" letter-spacing="0.05" fill="#636363" stroke="#636363" stroke-width="0.2">16.00%</text><path d="M590.95,43.6 L593.85,45.6 L590.95,47.6Z" fill="#666"/><text x="599.6" y="47.6" font-size="11.4" letter-spacing="0.05" fill="#636363" stroke="#636363" stroke-width="0.2">12.00%</text><path d="M590.95,99.3 L593.85,101.3 L590.95,103.3Z" fill="#666"/><text x="599.6" y="103.3" font-size="11.4" letter-spacing="0.05" fill="#636363" stroke="#636363" stroke-width="0.2">8.00%</text><path d="M590.95,117.7 L593.85,119.7 L590.95,121.7Z" fill="#666"/><text x="599.6" y="121.7" font-size="11.4" letter-spacing="0.05" fill="#636363" stroke="#636363" stroke-width="0.2">7.00%</text><path d="M590.95,163.9 L593.85,165.9 L590.95,167.9Z" fill="#666"/><text x="599.6" y="167.9" font-size="11.4" letter-spacing="0.05" fill="#636363" stroke="#636363" stroke-width="0.2">5.00%</text><path d="M590.95,234.1 L593.85,236.1 L590.95,238.1Z" fill="#666"/><text x="599.6" y="238.1" font-size="11.4" letter-spacing="0.05" fill="#636363" stroke="#636363" stroke-width="0.2">3.00%</text><path d="M590.95,289.8 L593.85,291.8 L590.95,293.8Z" fill="#666"/><text x="599.6" y="293.8" font-size="11.4" letter-spacing="0.05" fill="#636363" stroke="#636363" stroke-width="0.2">2.00%</text><path d="M590.95,335.0 L593.85,337.0 L590.95,339.0Z" fill="#666"/><text x="599.6" y="339.0" font-size="11.4" letter-spacing="0.05" fill="#636363" stroke="#636363" stroke-width="0.2">30.00%</text><path d="M590.95,382.7 L593.85,384.7 L590.95,386.7Z" fill="#666"/><text x="599.6" y="386.7" font-size="11.4" letter-spacing="0.05" fill="#636363" stroke="#636363" stroke-width="0.2">25.00%</text><path d="M590.95,430.4 L593.85,432.4 L590.95,434.4Z" fill="#666"/><text x="599.6" y="434.4" font-size="11.4" letter-spacing="0.05" fill="#636363" stroke="#636363" stroke-width="0.2">20.00%</text><path d="M590.95,478.2 L593.85,480.2 L590.95,482.2Z" fill="#666"/><text x="599.6" y="482.2" font-size="11.4" letter-spacing="0.05" fill="#636363" stroke="#636363" stroke-width="0.2">15.00%</text><path d="M590.95,525.9 L593.85,527.9 L590.95,529.9Z" fill="#666"/><text x="599.6" y="529.9" font-size="11.4" letter-spacing="0.05" fill="#636363" stroke="#636363" stroke-width="0.2">10.00%</text><path d="M590.95,573.7 L593.85,575.7 L590.95,577.7Z" fill="#666"/><text x="599.6" y="577.7" font-size="11.4" letter-spacing="0.05" fill="#636363" stroke="#636363" stroke-width="0.2">5.00%</text><path d="M590.95,621.4 L593.85,623.4 L590.95,625.4Z" fill="#666"/><text x="599.6" y="625.4" font-size="11.4" letter-spacing="0.05" fill="#636363" stroke="#636363" stroke-width="0.2">0.00%</text><path d="M590.95,656.7 L593.85,658.7 L590.95,660.7Z" fill="#666"/><text x="599.6" y="660.7" font-size="11.4" letter-spacing="0.05" fill="#636363" stroke="#636363" stroke-width="0.2">60.00%</text><path d="M590.95,715.2 L593.85,717.2 L590.95,719.2Z" fill="#666"/><text x="599.6" y="719.2" font-size="11.4" letter-spacing="0.05" fill="#636363" stroke="#636363" stroke-width="0.2">40.00%</text><path d="M590.95,773.8 L593.85,775.8 L590.95,777.8Z" fill="#666"/><text x="599.6" y="777.8" font-size="11.4" letter-spacing="0.05" fill="#636363" stroke="#636363" stroke-width="0.2">20.00%</text><path d="M590.95,832.3 L593.85,834.3 L590.95,836.3Z" fill="#666"/><text x="599.6" y="836.3" font-size="11.4" letter-spacing="0.05" fill="#636363" stroke="#636363" stroke-width="0.2">0.00%</text><path d="M590.95,890.8 L593.85,892.8 L590.95,894.8Z" fill="#666"/><text x="599.6" y="894.8" font-size="11.4" letter-spacing="0.05" fill="#636363" stroke="#636363" stroke-width="0.2">-20.00%</text><path d="M590.95,949.4 L593.85,951.4 L590.95,953.4Z" fill="#666"/><text x="599.6" y="953.4" font-size="11.4" letter-spacing="0.05" fill="#636363" stroke="#636363" stroke-width="0.2">-40.00%</text><line x1="110.3" y1="975" x2="110.3" y2="980" stroke="#8a8a8a" stroke-width="1.3"/><text x="110.3" y="995.8" font-size="12.5" font-weight="bold" fill="#666" text-anchor="middle" textLength="30.4" lengthAdjust="spacingAndGlyphs">2018</text><line x1="224.5" y1="975" x2="224.5" y2="980" stroke="#8a8a8a" stroke-width="1.3"/><text x="224.5" y="995.8" font-size="12.5" font-weight="bold" fill="#666" text-anchor="middle" textLength="30.4" lengthAdjust="spacingAndGlyphs">2020</text><line x1="338.7" y1="975" x2="338.7" y2="980" stroke="#8a8a8a" stroke-width="1.3"/><text x="338.7" y="995.8" font-size="12.5" font-weight="bold" fill="#666" text-anchor="middle" textLength="30.4" lengthAdjust="spacingAndGlyphs">2022</text><line x1="452.90000000000003" y1="975" x2="452.90000000000003" y2="980" stroke="#8a8a8a" stroke-width="1.3"/><text x="452.90000000000003" y="995.8" font-size="12.5" font-weight="bold" fill="#666" text-anchor="middle" textLength="30.4" lengthAdjust="spacingAndGlyphs">2024</text><line x1="567.1" y1="975" x2="567.1" y2="980" stroke="#8a8a8a" stroke-width="1.3"/><text x="567.1" y="995.8" font-size="12.5" font-weight="bold" fill="#666" text-anchor="middle" textLength="30.4" lengthAdjust="spacingAndGlyphs">2026</text><rect x="589.95" y="171.9" width="127.04999999999995" height="30" fill="#007bff" fill-opacity="0.9"/><text x="654" y="185" font-size="10.8" font-weight="bold" fill="#fff" text-anchor="middle">Div Yld (Ind)</text><text x="654" y="196.1" font-size="11.7" font-weight="bold" fill="#fff" text-anchor="middle">4.25%</text><rect x="589.95" y="607.4" width="127.04999999999995" height="30" fill="#7a00ff" fill-opacity="0.9"/><text x="654" y="621" font-size="10.8" font-weight="bold" fill="#fff" text-anchor="middle">Buyback Yield (LTM)</text><text x="654" y="632" font-size="11.7" font-weight="bold" fill="#fff" text-anchor="middle">0.00%</text><rect x="589.95" y="807.2" width="127.04999999999995" height="30" fill="#ff712b" fill-opacity="0.9"/><text x="654" y="820" font-size="10.8" font-weight="bold" fill="#fff" text-anchor="middle">Shr Yld (LTM)</text><text x="654" y="831" font-size="11.7" font-weight="bold" fill="#fff" text-anchor="middle">3.85%</text><line x1="590.45" y1="0" x2="590.45" y2="975" stroke="#7e7e7e" stroke-width="1.35" stroke-opacity="0.4"/></svg>
<div class="lg" style="top:4px;width:352px;"><i style="background:#007bff"></i><span style="left:9px"><b>WHR</b></span><span style="left:47px;letter-spacing:0.06px"><b>Whirlpool Corporation</b></span><span class="m" style="left:184px">Dividend Yield (Ind)</span><span class="v" style="left:301.4px"><b>4.25%</b></span></div>
<div class="lg" style="top:329px;width:356px;"><i style="background:#7a00ff"></i><span style="left:9px"><b>WHR</b></span><span style="left:47px;letter-spacing:0.06px"><b>Whirlpool Corporation</b></span><span class="m" style="left:184px">Buyback Yield (LTM)</span><span class="v" style="left:305.8px"><b>0.00%</b></span></div>
<div class="lg" style="top:654px;width:376px;"><i style="background:#ff712b"></i><span style="left:9px"><b>WHR</b></span><span style="left:47px;letter-spacing:0.06px"><b>Whirlpool Corporation</b></span><span class="m" style="left:184px">Shareholder Yield (LTM)</span><span class="v" style="left:325.8px"><b>3.85%</b></span></div>
</body></html>
